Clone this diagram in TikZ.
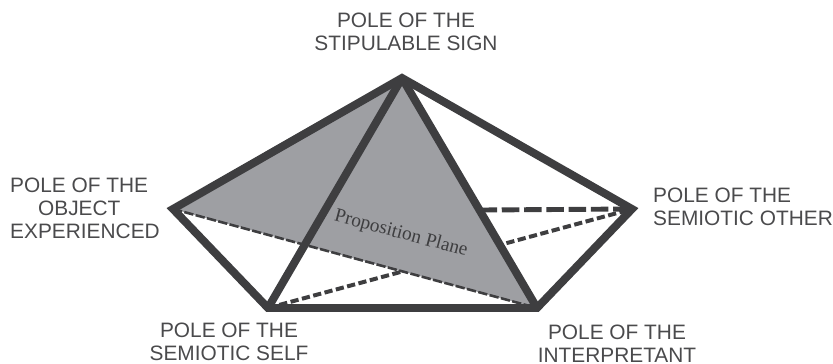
\documentclass[tikz,border=0pt]{standalone}
\usepackage{fontspec}
\setmainfont{Liberation Sans}
\newfontfamily\planefont{Liberation Serif}
\usetikzlibrary{calc}
\definecolor{edgegray}{HTML}{3E3E40}
\definecolor{planegray}{HTML}{9E9FA3}
\definecolor{textgray}{HTML}{4A4A4C}
\begin{document}
\begin{tikzpicture}[x=0.03cm,y=-0.03cm,
pole/.style={align=center,inner sep=0pt,text=textgray,font=\fontsize{17.8}{19.6}\selectfont},
solidedge/.style={draw=edgegray,line width=6.8pt,line join=miter},
longdash/.style={draw=edgegray,line width=4.2pt,dash pattern=on 15pt off 4pt},
shortdash/.style={draw=edgegray,line width=3.4pt,dash pattern=on 7pt off 3pt},
finedash/.style={draw=edgegray,line width=2.2pt,dash pattern=on 8pt off 2pt}]
\useasboundingbox (0,0) rectangle (833,364);
\coordinate (sign) at (402,78);
\coordinate (object) at (173,209);
\coordinate (self) at (268,308);
\coordinate (interp) at (537,308);
\coordinate (other) at (632,209);
\coordinate (hit) at ($(sign)!0.574!(interp)$);
\coordinate (hideA) at ($(self)!0.366!(other)$);
\coordinate (hideB) at ($(self)!0.655!(other)$);
\fill[planegray] (sign) -- (object) -- (interp) -- cycle;
\draw[finedash] (object)--(interp);
\draw[shortdash] (self)--(hideA);
\draw[shortdash] (hideB)--(other);
\draw[longdash] (hit)--(other);
\draw[solidedge] (sign)--(other)--(interp)--(self)--(object)--cycle;
\draw[solidedge] (sign)--(self);
\draw[solidedge] (sign)--(interp);
\node[pole] (signlabel) at (406,32) {POLE OF THE\\STIPULABLE SIGN};
\node[pole,align=left,anchor=west] (objectlabel) at (10,208) {POLE OF THE\\\hspace{23.8pt}OBJECT\\EXPERIENCED};
\node[pole,align=left,anchor=west] (otherlabel) at (653,207) {POLE OF THE\\SEMIOTIC OTHER};
\node[pole] (selflabel) at (229,342) {POLE OF THE\\SEMIOTIC SELF};
\node[pole] (interplabel) at (617,344) {POLE OF THE\\INTERPRETANT};
\node[rotate=-15,text=edgegray,font=\planefont\fontsize{16.5}{18}\selectfont] (plane) at (401,234) {Proposition Plane};
\end{tikzpicture}
\end{document}
